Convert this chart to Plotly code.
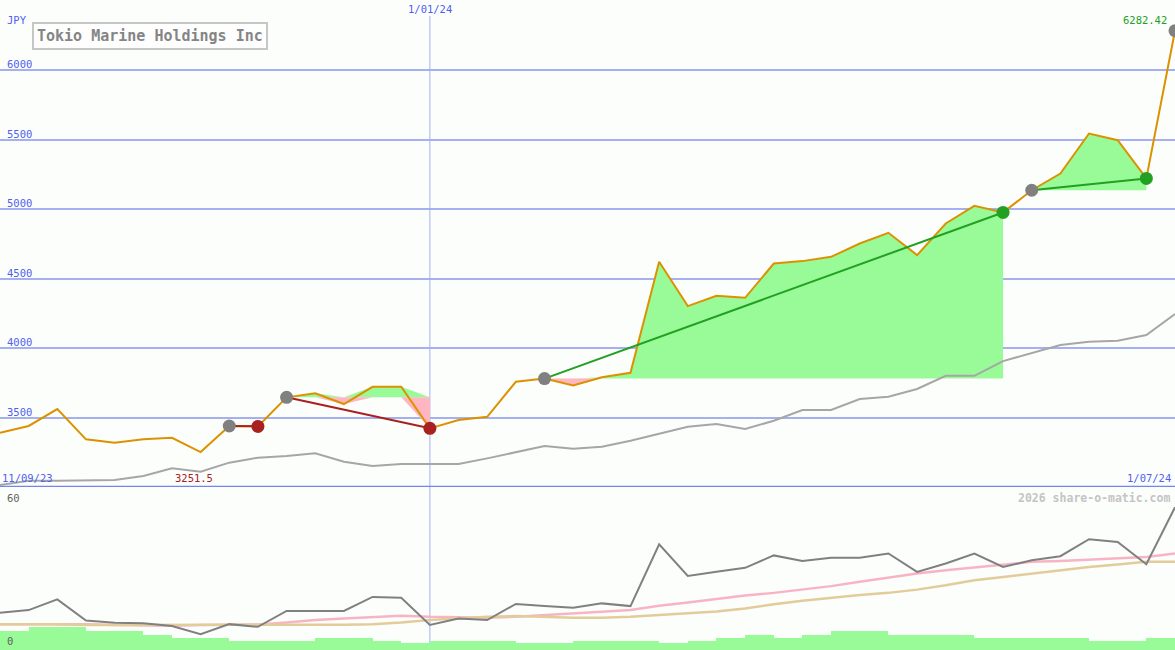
import plotly.graph_objects as go

# ---------------- data ----------------
week_index = list(range(42))
date_labels = ["11/09/23", "1/01/24", "1/07/24"]
date_label_pos = [0, 15, 41]

price = [3390, 3439, 3561, 3343, 3319, 3343, 3354, 3251.5, 3439, 3436,
         3645, 3674, 3597, 3721, 3721, 3422, 3482, 3505, 3757, 3780,
         3730, 3790, 3822, 4620, 4301, 4376, 4361, 4608, 4625, 4656,
         4752, 4829, 4668, 4896, 5023, 4975, 5135, 5255, 5543, 5495,
         5220, 6282.42]

price_avg = [3014, 3045, 3045, 3050, 3050, 3079, 3134, 3110, 3175, 3211,
             3223, 3242, 3182, 3151, 3165, 3165, 3165, 3206, 3248, 3295,
             3276, 3290, 3333, 3386, 3434, 3453, 3417, 3477, 3554, 3554,
             3633, 3649, 3705, 3800, 3800, 3906, 3966, 4021, 4045, 4052,
             4093, 4244]

# trend segments (start index, end index)
seg_start = [8, 10, 19, 36]
seg_end = [9, 15, 35, 40]

osc = [13.8, 14.8, 18.8, 10.9, 10.1, 9.9, 8.9, 5.9, 9.6, 8.6,
       14.5, 14.5, 14.5, 19.7, 19.4, 9.3, 11.7, 11.1, 17.1, 16.3,
       15.7, 17.3, 16.3, 39.2, 27.5, 29.0, 30.5, 35.1, 33.0, 34.2,
       34.2, 35.8, 29.0, 32.1, 35.8, 30.8, 33.3, 34.8, 41.1, 40.1,
       31.8, 53.0]
osc_fast = [9.6, 9.6, 9.6, 9.6, 9.25, 9.0, 9.0, 9.25, 9.5, 9.5,
            10.2, 11.1, 11.7, 12.3, 12.7, 12.3, 12.1, 12.0, 12.3, 13.0,
            13.7, 14.2, 14.8, 16.4, 17.6, 19.0, 20.2, 21.2, 22.4, 23.7,
            25.3, 26.9, 28.4, 29.6, 30.6, 31.7, 32.7, 33.0, 33.5, 34.2,
            34.5, 35.8]
osc_slow = [9.6, 9.6, 9.6, 9.25, 9.25, 9.25, 9.25, 9.25, 9.25, 9.25,
            9.4, 9.4, 9.4, 9.6, 10.2, 11.1, 11.7, 12.3, 12.6, 12.3,
            12.0, 12.0, 12.3, 13.0, 13.6, 14.3, 15.4, 17.0, 18.3, 19.4,
            20.4, 21.2, 22.4, 24.0, 25.9, 27.1, 28.4, 29.6, 30.8, 31.7,
            32.7, 32.7]
volume = [7.0, 8.25, 8.25, 7.0, 7.0, 5.55, 4.45, 4.45, 3.35, 3.35,
          3.35, 4.45, 4.45, 3.35, 2.35, 3.35, 3.35, 3.35, 2.35, 2.35,
          3.35, 3.35, 3.35, 2.35, 3.35, 4.45, 5.55, 4.45, 5.55, 7.0,
          7.0, 5.55, 5.55, 5.55, 4.45, 4.45, 4.45, 4.45, 3.35, 3.35,
          4.45, 4.45]

price_ticks = [3500, 4000, 4500, 5000, 5500, 6000]
lower_ticks = [0, 60]
title_text = "Tokio Marine Holdings Inc"
currency = "JPY"
credit = "2026 share-o-matic.com"

# ---------------- styling ----------------
W, H = 1175, 650
BG = "#fcfefc"
GRID = "#a4b0f0"
SEP = "#7585ea"
LBL = "#4f5ff0"
MONO = "DejaVu Sans Mono, Liberation Mono, monospace"
FS = 10.5
ORANGE = "#dc9200"
GREEN_FILL = "#98fb98"
PINK_FILL = "#ffb6c1"
UP = "#22a022"
DOWN = "#a82020"
DOT_GREY = "#808080"

fig = go.Figure()

# trend fills
for s, e in zip(seg_start, seg_end):
    xs = week_index[s:e + 1]
    base = [price[s]] * len(xs)
    upper = [max(p, price[s]) for p in price[s:e + 1]]
    lower = [min(p, price[s]) for p in price[s:e + 1]]
    fig.add_trace(go.Scatter(x=xs, y=base, mode="lines", line=dict(width=0),
                             hoverinfo="skip", showlegend=False))
    fig.add_trace(go.Scatter(x=xs, y=upper, mode="lines", line=dict(width=0),
                             fill="tonexty", fillcolor=GREEN_FILL,
                             hoverinfo="skip", showlegend=False))
    fig.add_trace(go.Scatter(x=xs, y=base, mode="lines", line=dict(width=0),
                             hoverinfo="skip", showlegend=False))
    fig.add_trace(go.Scatter(x=xs, y=lower, mode="lines", line=dict(width=0),
                             fill="tonexty", fillcolor=PINK_FILL,
                             hoverinfo="skip", showlegend=False))

# price average
fig.add_trace(go.Scatter(x=week_index, y=price_avg, mode="lines",
                         line=dict(color="#a6a6a6", width=2), showlegend=False))
# price line
fig.add_trace(go.Scatter(x=week_index, y=price, mode="lines",
                         line=dict(color=ORANGE, width=2), showlegend=False))

# trend lines and dots
for s, e in zip(seg_start, seg_end):
    col = UP if price[e] > price[s] else DOWN
    fig.add_trace(go.Scatter(x=[s, e], y=[price[s], price[e]], mode="lines",
                             line=dict(color=col, width=2), showlegend=False))
for s, e in zip(seg_start, seg_end):
    col = UP if price[e] > price[s] else DOWN
    fig.add_trace(go.Scatter(x=[s], y=[price[s]], mode="markers",
                             marker=dict(color=DOT_GREY, size=13, line=dict(width=0)),
                             showlegend=False))
    fig.add_trace(go.Scatter(x=[e], y=[price[e]], mode="markers",
                             marker=dict(color=col, size=13, line=dict(width=0)),
                             showlegend=False))
fig.add_trace(go.Scatter(x=[week_index[-1]], y=[price[-1]], mode="markers",
                         marker=dict(color=DOT_GREY, size=13, line=dict(width=0)),
                         showlegend=False, cliponaxis=False))

# lower panel
fig.add_trace(go.Bar(x=week_index, y=volume, offset=0, width=1,
                     marker=dict(color=GREEN_FILL, line=dict(width=0)),
                     xaxis="x2", yaxis="y2", showlegend=False))
fig.add_trace(go.Scatter(x=week_index, y=osc_fast, mode="lines",
                         line=dict(color="#f8b4c4", width=2.5),
                         xaxis="x2", yaxis="y2", showlegend=False))
fig.add_trace(go.Scatter(x=week_index, y=osc_slow, mode="lines",
                         line=dict(color="#e2cc9a", width=2.5),
                         xaxis="x2", yaxis="y2", showlegend=False))
fig.add_trace(go.Scatter(x=week_index, y=osc, mode="lines",
                         line=dict(color="#808080", width=2),
                         xaxis="x2", yaxis="y2", showlegend=False))

split = 1 - 487 / H
price_top = 3000 + 487 * (3000 / 417)

fig.update_layout(
    width=W, height=H,
    margin=dict(l=0, r=0, t=0, b=0),
    paper_bgcolor=BG, plot_bgcolor=BG,
    bargap=0,
    xaxis=dict(range=[0, 41], domain=[0, 1], showgrid=False, zeroline=False,
               showticklabels=False, ticks=""),
    yaxis=dict(range=[3000, price_top], domain=[split, 1], tickvals=price_ticks,
               showgrid=True, gridcolor=GRID, gridwidth=2, zeroline=False,
               showticklabels=False, ticks=""),
    xaxis2=dict(range=[0, 41], domain=[0, 1], anchor="y2", showgrid=False,
                zeroline=False, showticklabels=False, ticks=""),
    yaxis2=dict(range=[0, 60], domain=[0, split - 0.002], showgrid=False,
                zeroline=False, showticklabels=False, ticks=""),
    showlegend=False,
)

# separator and vertical date line
fig.add_shape(type="line", xref="paper", x0=0, x1=1, yref="y", y0=3000, y1=3000,
              line=dict(color=SEP, width=2.5), layer="above")
fig.add_shape(type="line", xref="x", x0=date_label_pos[1], x1=date_label_pos[1],
              yref="paper", y0=0, y1=1 - 16 / H,
              line=dict(color=GRID, width=1), layer="below")

ann = []
for v in price_ticks:
    ann.append(dict(x=5 / W, xref="paper", y=v, yref="y", text=str(v),
                    xanchor="left", yanchor="bottom", showarrow=False, yshift=-2,
                    font=dict(family=MONO, size=FS, color=LBL)))
ann.append(dict(x=5 / W, xref="paper", y=1 - 20 / H, yref="paper", text=currency,
                xanchor="left", yanchor="middle", showarrow=False,
                font=dict(family=MONO, size=FS, color=LBL)))
ann.append(dict(x=150 / W, xref="paper", y=1 - 36 / H, yref="paper",
                text="<b>" + title_text + "</b>", showarrow=False,
                xanchor="center", yanchor="middle",
                font=dict(family=MONO, size=15, color="#858585"),
                bordercolor="#c6c6c6", borderwidth=2, borderpad=3, bgcolor="#fdfefd"))
# date labels
ann.append(dict(x=date_label_pos[0], xref="x", y=3000, yref="y", text=date_labels[0],
                xanchor="left", yanchor="bottom", showarrow=False, yshift=1,
                font=dict(family=MONO, size=FS, color=LBL)))
ann.append(dict(x=date_label_pos[1], xref="x", y=1 - 9 / H, yref="paper",
                text=date_labels[1], xanchor="center", yanchor="middle",
                showarrow=False, font=dict(family=MONO, size=FS, color=LBL)))
ann.append(dict(x=date_label_pos[2], xref="x", y=3000, yref="y", text=date_labels[2],
                xanchor="right", yanchor="bottom", showarrow=False, yshift=1, xshift=-2,
                font=dict(family=MONO, size=FS, color=LBL)))
# min / max labels
imin = price.index(min(price))
imax = price.index(max(price))
ann.append(dict(x=imin, xref="x", y=3000, yref="y", text=f"{min(price):g}",
                xanchor="center", yanchor="bottom", showarrow=False, yshift=1, xshift=-7,
                font=dict(family=MONO, size=FS, color=DOWN)))
ann.append(dict(x=imax, xref="x", y=max(price), yref="y", text=f"{max(price):g}",
                xanchor="right", yanchor="bottom", showarrow=False, yshift=3, xshift=-6,
                font=dict(family=MONO, size=FS, color=UP)))
# lower panel labels
ann.append(dict(x=5 / W, xref="paper", y=lower_ticks[1], yref="y2", text=str(lower_ticks[1]),
                xanchor="left", yanchor="top", showarrow=False, yshift=-2,
                font=dict(family=MONO, size=FS, color="#606060")))
ann.append(dict(x=5 / W, xref="paper", y=lower_ticks[0], yref="y2", text=str(lower_ticks[0]),
                xanchor="left", yanchor="bottom", showarrow=False, yshift=1,
                font=dict(family=MONO, size=FS, color="#606060")))
ann.append(dict(x=1 - 3 / W, xref="paper", y=lower_ticks[1], yref="y2", text="<b>" + credit + "</b>",
                xanchor="right", yanchor="top", showarrow=False, yshift=-1,
                font=dict(family=MONO, size=11.5, color="#c4c4c4")))
fig.update_layout(annotations=ann)

fig.write_html("out.html", config={"displayModeBar": False},
               post_script="document.body.style.margin='0';document.body.style.overflow='hidden';")
